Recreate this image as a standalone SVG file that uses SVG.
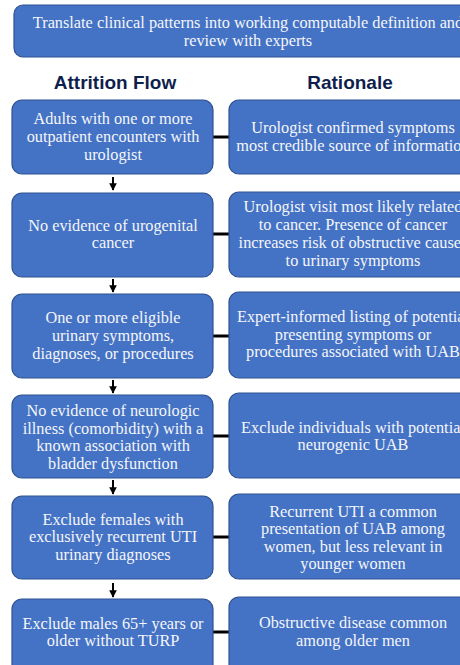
<svg xmlns="http://www.w3.org/2000/svg" width="460" height="665" viewBox="0 0 460 665">
<style>
.box{fill:#4472C4;stroke:#2F528F;stroke-width:1.2}
.t{font-family:"Liberation Serif","Times New Roman",serif;font-size:16.3px;fill:#F4F6FA;text-anchor:middle}
.h{font-family:"Liberation Sans",Arial,sans-serif;font-size:19px;font-weight:bold;fill:#0F1F4D;text-anchor:middle}
.c{stroke:#000;stroke-width:3;fill:none}
.a{stroke:#000;stroke-width:2;fill:none;marker-end:url(#ah)}
</style>
<defs>
<marker id="ah" viewBox="0 0 10 10" refX="9" refY="5" markerWidth="3.8" markerHeight="3.8" orient="auto" markerUnits="strokeWidth">
<path d="M0,0 L10,5 L0,10 z" fill="#000"/>
</marker>
</defs>
<rect width="460" height="665" fill="#fff"/>
<g id="top">
<rect class="box" x="14" y="5" width="468" height="52" rx="9"/>
<text class="t" x="248" y="28">Translate clinical patterns into working computable definition and</text>
<text class="t" x="248" y="46">review with experts</text>
</g>
<g id="headers">
<text class="h" x="115" y="89">Attrition Flow</text>
<text class="h" x="350" y="89">Rationale</text>
</g>
<g id="connectors">
<line class="c" x1="213" y1="137" x2="229" y2="137"/>
<line class="c" x1="213" y1="234" x2="229" y2="234"/>
<line class="c" x1="213" y1="336" x2="229" y2="336"/>
<line class="c" x1="213" y1="436" x2="229" y2="436"/>
<line class="c" x1="213" y1="537" x2="229" y2="537"/>
<line class="c" x1="213" y1="632" x2="229" y2="632"/>
<line class="a" x1="113" y1="177" x2="113" y2="190"/>
<line class="a" x1="113" y1="279" x2="113" y2="292"/>
<line class="a" x1="113" y1="380" x2="113" y2="393"/>
<line class="a" x1="113" y1="480" x2="113" y2="494"/>
<line class="a" x1="113" y1="583" x2="113" y2="597"/>
</g>
<g id="l1">
<rect class="box" x="12" y="100" width="201" height="74" rx="10"/>
<text class="t" x="113" y="124">Adults with one or more</text>
<text class="t" x="113" y="142">outpatient encounters with</text>
<text class="t" x="113" y="160">urologist</text>
</g>
<g id="l2">
<rect class="box" x="12" y="193" width="201" height="84" rx="10"/>
<text class="t" x="113" y="231">No evidence of urogenital</text>
<text class="t" x="113" y="248">cancer</text>
</g>
<g id="l3">
<rect class="box" x="12" y="294" width="201" height="84" rx="10"/>
<text class="t" x="113" y="323">One or more eligible</text>
<text class="t" x="113" y="341">urinary symptoms,</text>
<text class="t" x="113" y="359">diagnoses, or procedures</text>
</g>
<g id="l4">
<rect class="box" x="12" y="395" width="201" height="83" rx="10"/>
<text class="t" x="113" y="416">No evidence of neurologic</text>
<text class="t" x="113" y="434">illness (comorbidity) with a</text>
<text class="t" x="113" y="451">known association with</text>
<text class="t" x="113" y="469">bladder dysfunction</text>
</g>
<g id="l5">
<rect class="box" x="12" y="496" width="201" height="83" rx="10"/>
<text class="t" x="113" y="525">Exclude females with</text>
<text class="t" x="113" y="542">exclusively recurrent UTI</text>
<text class="t" x="113" y="560">urinary diagnoses</text>
</g>
<g id="l6">
<rect class="box" x="12" y="599" width="201" height="80" rx="10"/>
<text class="t" x="113" y="629">Exclude males 65+ years or</text>
<text class="t" x="113" y="646">older without TURP</text>
</g>
<g id="r1">
<rect class="box" x="229" y="100" width="248" height="74" rx="10"/>
<text class="t" x="353" y="133">Urologist confirmed symptoms</text>
<text class="t" x="353" y="151">most credible source of information</text>
</g>
<g id="r2">
<rect class="box" x="229" y="192" width="248" height="85" rx="10"/>
<text class="t" x="353" y="212">Urologist visit most likely related</text>
<text class="t" x="353" y="230">to cancer. Presence of cancer</text>
<text class="t" x="353" y="248">increases risk of obstructive causes</text>
<text class="t" x="353" y="266">to urinary symptoms</text>
</g>
<g id="r3">
<rect class="box" x="229" y="292" width="248" height="86" rx="10"/>
<text class="t" x="353" y="322">Expert-informed listing of potential</text>
<text class="t" x="353" y="340">presenting symptoms or</text>
<text class="t" x="353" y="357">procedures associated with UAB</text>
</g>
<g id="r4">
<rect class="box" x="229" y="393" width="248" height="85" rx="10"/>
<text class="t" x="353" y="433">Exclude individuals with potential</text>
<text class="t" x="353" y="450">neurogenic UAB</text>
</g>
<g id="r5">
<rect class="box" x="229" y="494" width="248" height="85" rx="10"/>
<text class="t" x="353" y="517">Recurrent UTI a common</text>
<text class="t" x="353" y="534">presentation of UAB among</text>
<text class="t" x="353" y="552">women, but less relevant in</text>
<text class="t" x="353" y="569">younger women</text>
</g>
<g id="r6">
<rect class="box" x="229" y="597" width="248" height="82" rx="10"/>
<text class="t" x="353" y="628">Obstructive disease common</text>
<text class="t" x="353" y="646">among older men</text>
</g>
</svg>
